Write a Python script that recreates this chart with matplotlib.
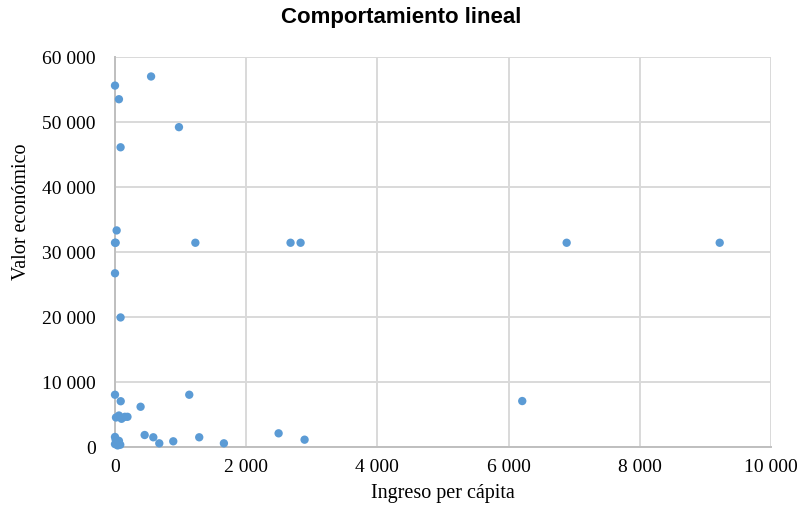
import matplotlib
matplotlib.use("Agg")
import matplotlib.pyplot as plt
from matplotlib.ticker import FuncFormatter

# Ingreso per cápita (x) vs valor económico (y)
ingreso = [
    0, 550, 60, 975, 85,
    25, 0, 10, 0, 85,
    1225, 2676, 2829, 6885, 9218,
    6208, 0, 87, 390, 1132,
    15, 60, 100, 150, 190,
    0, 10, 30, 0, 60, 80, 40,
    452, 584, 675, 888, 1284, 1660, 2494, 2890,
]
valor = [
    55600, 57000, 53500, 49200, 46100,
    33300, 31400, 31400, 26700, 19900,
    31400, 31400, 31400, 31400, 31400,
    7030, 8000, 7000, 6150, 8000,
    4500, 4800, 4300, 4600, 4600,
    1500, 1100, 700, 400, 900, 300, 200,
    1800, 1450, 520, 830, 1450, 520, 2060, 1080,
]

x_ticks = [0, 2000, 4000, 6000, 8000, 10000]
y_ticks = [0, 10000, 20000, 30000, 40000, 50000, 60000]

titulo = "Comportamiento lineal"
etiqueta_x = "Ingreso per cápita"
etiqueta_y = "Valor económico"

W, H = 803, 510
fig = plt.figure(figsize=(W / 100, H / 100), dpi=100)
ax = fig.add_axes([115 / W, 1 - 447.7 / H, (771 - 115) / W, (447.7 - 58) / H])

grid_color = "#D9D9D9"
ax.scatter(ingreso, valor, s=36, color="#5B9BD5", edgecolors="none", zorder=3,
           clip_on=False)

ax.set_xlim(x_ticks[0], x_ticks[-1])
ax.set_ylim(y_ticks[0], y_ticks[-1])
ax.set_xticks(x_ticks)
ax.set_yticks(y_ticks)

def miles(v, pos):
    s = f"{int(round(v)):,}"
    return s.replace(",", " ")

ax.xaxis.set_major_formatter(FuncFormatter(miles))
ax.yaxis.set_major_formatter(FuncFormatter(miles))

ax.grid(True, color=grid_color, linewidth=1.4, zorder=0)
ax.set_axisbelow(True)
for side in ["top", "right"]:
    ax.spines[side].set_visible(False)
for side in ["left", "bottom"]:
    ax.spines[side].set_color("#BFBFBF")
    ax.spines[side].set_linewidth(1.4)

ax.tick_params(axis="both", length=0, labelsize=14, labelcolor="#000000")
ax.tick_params(axis="x", pad=8)
ax.tick_params(axis="y", pad=14)
for lab in ax.get_xticklabels() + ax.get_yticklabels():
    lab.set_family("Liberation Serif")

fig.text(0.5, 1 - 17 / H, titulo, ha="center", va="center",
         fontsize=16, fontweight="bold", family="Liberation Sans")
fig.text(443 / W, 1 - 494 / H, etiqueta_x, ha="center", va="center",
         fontsize=14.5, family="Liberation Serif")
fig.text(22 / W, 1 - 212 / H, etiqueta_y, ha="center", va="center",
         rotation=90, fontsize=14.5, family="Liberation Serif")

fig.savefig("out.png", dpi=100, facecolor="white")
